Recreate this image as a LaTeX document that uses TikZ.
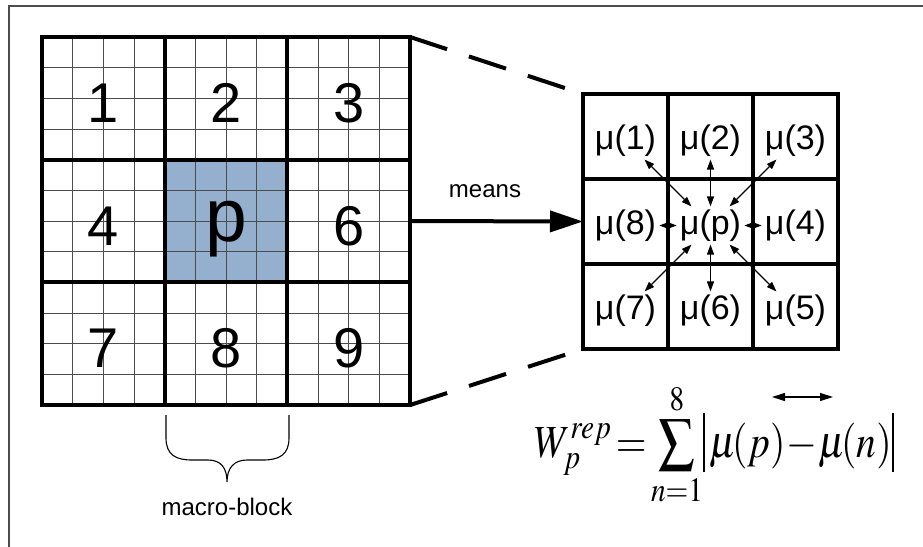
\documentclass[tikz,border=0pt]{standalone}
\usepackage{graphicx}
\usepackage{mathptmx}
\usepackage[no-math]{fontspec}
\setmainfont{Liberation Sans}
\usetikzlibrary{arrows.meta,positioning,calc}
\definecolor{pblue}{RGB}{149,176,207}
\newcommand{\absbar}{\rule[-0.33em]{0.05em}{1.29em}}

\begin{document}
\begin{tikzpicture}[x=1bp, y=-1bp,
  font=\fontsize{24bp}{28bp}\selectfont,
  subline/.style={draw=black!70, line width=0.8bp},
  blockline/.style={draw=black, line width=4bp},
  digit/.style={font=\fontsize{56bp}{60bp}\selectfont, inner sep=0pt, anchor=base},
  mucell/.style={font=\fontsize{34bp}{38bp}\selectfont, inner sep=3bp},
  link/.style={line width=4bp, dash pattern=on 39bp off 23bp, shorten >=17bp},
  pair/.style={<->, line width=1.2bp},
  formula/.style={font=\fontsize{46bp}{54bp}\selectfont, inner sep=0pt},
  >={Triangle[length=10bp,width=7bp]}
]
\useasboundingbox (0,0) rectangle (923,547);
\draw[black!70, line width=1.5bp] (9,547) -- (9,6) -- (923,6);

% Frame of macro-blocks: 3x3 blocks of 4x4 pixels, block p shaded
\def\gx{42}
\def\gy{37}
\def\sub{30.67}
\fill[pblue] ({\gx+4*\sub},{\gy+4*\sub}) rectangle ++({4*\sub},{4*\sub});
\foreach \i in {1,...,11} {
  \draw[subline] ({\gx+\i*\sub},\gy) -- ++(0,{12*\sub});
  \draw[subline] (\gx,{\gy+\i*\sub}) -- ++({12*\sub},0);
}
\foreach \i in {1,2} {
  \draw[blockline] ({\gx+4*\i*\sub},\gy) -- ++(0,{12*\sub});
  \draw[blockline] (\gx,{\gy+4*\i*\sub}) -- ++({12*\sub},0);
}
\draw[blockline] (\gx,\gy) rectangle ++({12*\sub},{12*\sub});
\coordinate (left-ne) at ({\gx+12*\sub},\gy);
\coordinate (left-e) at ({\gx+12*\sub},{\gy+6*\sub});
\coordinate (left-se) at ({\gx+12*\sub},{\gy+12*\sub});
\foreach \n/\c/\r in {1/0/0,2/1/0,3/2/0,4/0/1,6/2/1,7/0/2,8/1/2,9/2/2}
  \node[digit] (blk\n) at ({\gx+(4*\c+2)*\sub},{\gy+(4*\r+2)*\sub+24}) {\n};
\node[digit, font=\fontsize{75bp}{80bp}\selectfont] (blkp) at ({\gx+6*\sub},242) {p};

% Brace under the middle column
\draw[line width=1.1bp] (166,415) -- (166,438)
  .. controls (166,455) and (176,460) .. (192,460) -- (208,460)
  .. controls (221,460) and (227,468) .. (227,482)
  .. controls (227,468) and (234,460) .. (247,460) -- (263,460)
  .. controls (279,460) and (289,455) .. (289,438) -- (289,415);
\node (mblabel) at (227,507) {macro-block};

% Means of the 3x3 blocks
\def\rx{583}
\def\ry{94}
\draw[blockline, fill=white] (\rx,\ry) rectangle ++(255,255);
\foreach \i in {1,2} {
  \draw[blockline] ({\rx+85*\i},\ry) -- ++(0,255);
  \draw[blockline] (\rx,{\ry+85*\i}) -- ++(255,0);
}
\coordinate (right-nw) at (\rx,\ry);
\coordinate (right-w) at (\rx,{\ry+127.5});
\coordinate (right-sw) at (\rx,{\ry+255});
\foreach \n/\c/\r in {1/0/0,2/1/0,3/2/0,8/0/1,p/1/1,4/2/1,7/0/2,6/1/2,5/2/2}
  \node[mucell] (mu\n) at ({\rx+42.5+85*\c},{\ry+46.5+85*\r}) {μ(\n)};
\foreach \n in {1,...,8}
  \draw[pair] (mup) -- (mu\n);

\draw[link] (left-ne) -- (right-nw);
\draw[link] (left-se) -- (right-sw);
\draw[line width=4bp, -{Triangle[length=33bp,width=21bp]}] (left-e) -- (right-w);
\node (means) at (485,191) {means};

% Weight of block p
\node[formula, anchor=base] (wrep) at (714,457)
  {\scalebox{0.86}[1]{$\displaystyle W_p^{rep}\!=\!
   \mathop{\vcenter{\hbox{\scalebox{1.3}{$\textstyle\sum$}}}}\limits_{n=1}^{8}
   \!\absbar\,\mu\!(p)\!-\!\mu\!(n)\absbar$}};
\coordinate (acc-l) at (772,397);
\coordinate (acc-r) at (833,397);
\draw[<->, >={Triangle[length=13bp,width=8bp]}, line width=1.2bp] (acc-l) -- (acc-r);
\end{tikzpicture}
\end{document}
